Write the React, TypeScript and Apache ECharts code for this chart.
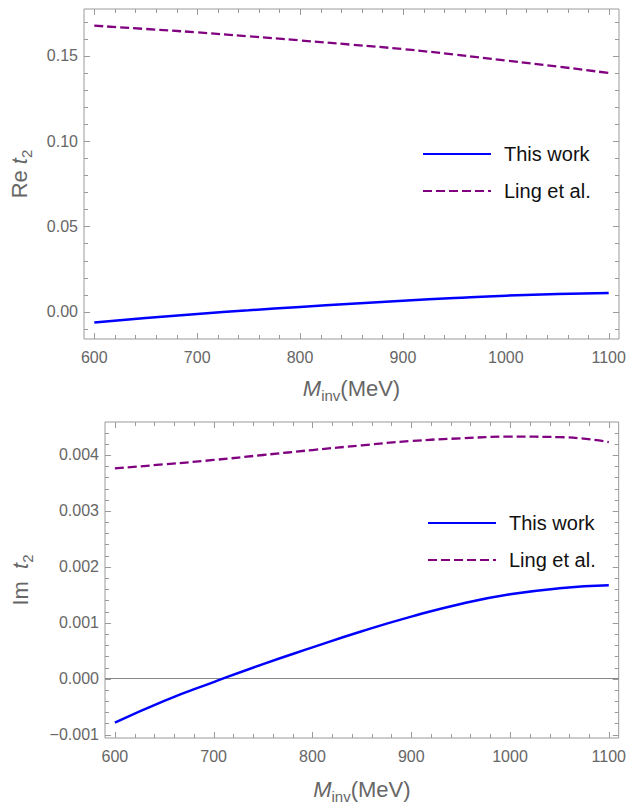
import React, { useEffect, useRef } from "react";
import * as echarts from "echarts";

const xs = [600, 650, 700, 750, 800, 850, 900, 950, 1000, 1050, 1100];
const reThisWork = [-0.0063, -0.0037, -0.0013, 0.0008, 0.0028, 0.0047, 0.0064, 0.008, 0.0094, 0.0103, 0.011];
const reLing = [0.1676, 0.1657, 0.1637, 0.1614, 0.159, 0.1565, 0.1539, 0.1507, 0.1472, 0.1437, 0.1399];
const imThisWork = [-0.000787, -0.000395, -0.00006, 0.000262, 0.00056, 0.000848, 0.00111, 0.001337, 0.001509, 0.001617, 0.001669];
const imLing = [0.003762, 0.003833, 0.003911, 0.004, 0.004089, 0.004173, 0.00425, 0.004298, 0.004328, 0.00432, 0.004232];

const xMajor = [600, 700, 800, 900, 1000, 1100];
const xMinor = [620, 640, 660, 680, 720, 740, 760, 780, 820, 840, 860, 880, 920, 940, 960, 980, 1020, 1040, 1060, 1080];
const reMajor = [0, 0.05, 0.1, 0.15];
const reMinor = [-0.01, 0.01, 0.02, 0.03, 0.04, 0.06, 0.07, 0.08, 0.09, 0.11, 0.12, 0.13, 0.14, 0.16, 0.17];
const imMajor = [-0.001, 0, 0.001, 0.002, 0.003, 0.004];
const imMinor = [-0.0008, -0.0006, -0.0004, -0.0002, 0.0002, 0.0004, 0.0006, 0.0008, 0.0012, 0.0014, 0.0016, 0.0018, 0.0022, 0.0024, 0.0026, 0.0028, 0.0032, 0.0034, 0.0036, 0.0038, 0.0042, 0.0044];

const seriesNames = ["This work", "Ling et al."];

const FONT = "Liberation Sans, Arial, sans-serif";
const GRAY = "#666666";
const FRAME = "#9a9a9a";

const pairs = (a: number[], b: number[]) => a.map((x, i) => [x, b[i]]);

const nameStyle = {
  color: GRAY,
  fontFamily: FONT,
  fontSize: 22,
  rich: {
    n: { fontSize: 22, lineHeight: 24, verticalAlign: "top", color: GRAY, fontFamily: FONT },
    i: { fontSize: 22, lineHeight: 24, verticalAlign: "top", fontStyle: "italic", color: GRAY, fontFamily: FONT },
    s: { fontSize: 15, lineHeight: 15, padding: [11, 0, 0, 0], verticalAlign: "top", color: GRAY, fontFamily: FONT },
  },
};

function axis(grid: number, min: number, max: number, majors: number[], fmt: (v: number) => string, name: string, nameGap: number, isX: boolean) {
  return {
    type: "value",
    gridIndex: grid,
    position: isX ? "bottom" : "left",
    min,
    max,
    name,
    nameLocation: "middle",
    nameGap,
    nameTextStyle: nameStyle,
    axisLine: { show: false, onZero: false },
    splitLine: { show: false },
    axisTick: { show: false },
    axisLabel: {
      show: true,
      customValues: majors,
      formatter: fmt,
      color: GRAY,
      fontFamily: FONT,
      fontSize: 16,
      margin: isX ? 10 : 6,
    },
  };
}

function tickSeries(grid: number, xMin: number, yMin: number, xMaj: number[], xMin2: number[], yMaj: number[], yMin2: number[]) {
  return {
    type: "custom",
    name: "ticks" + grid,
    xAxisIndex: grid,
    yAxisIndex: grid,
    silent: true,
    clip: false,
    z: 1,
    data: [[xMin, yMin]],
    renderItem: (params: any, api: any) => {
      const cs = params.coordSys;
      const top = cs.y;
      const bottom = cs.y + cs.height;
      const left = cs.x;
      const right = cs.x + cs.width;
      const children: any[] = [];
      const st = { stroke: FRAME, lineWidth: 1 };
      const addX = (vals: number[], len: number) =>
        vals.forEach((v) => {
          const px = Math.round(api.coord([v, yMin])[0]) + 0.5;
          children.push({ type: "line", shape: { x1: px, y1: bottom, x2: px, y2: bottom - len }, style: st });
          children.push({ type: "line", shape: { x1: px, y1: top, x2: px, y2: top + len }, style: st });
        });
      const addY = (vals: number[], len: number) =>
        vals.forEach((v) => {
          const py = Math.round(api.coord([xMin, v])[1]) + 0.5;
          children.push({ type: "line", shape: { x1: left, y1: py, x2: left + len, y2: py }, style: st });
          children.push({ type: "line", shape: { x1: right, y1: py, x2: right - len, y2: py }, style: st });
        });
      addX(xMaj, 6);
      addX(xMin2, 4);
      addY(yMaj, 6);
      addY(yMin2, 4);
      return { type: "group", children };
    },
  };
}

export default function App() {
  const ref = useRef<HTMLDivElement>(null);
  useEffect(() => {
    if (!ref.current) return;
    const chart = echarts.init(ref.current, null, { renderer: "svg" });
    const lineStyles = [
      { color: "#0000ff", width: 2.5, type: "solid" },
      { color: "#800080", width: 2.3, type: [9, 4] },
    ];
    const mk = (name: string, data: number[][], xi: number, yi: number, idx: number, extra: any = {}) => ({
      type: "line",
      name,
      data,
      xAxisIndex: xi,
      yAxisIndex: yi,
      smooth: 0.5,
      symbol: "none",
      showSymbol: false,
      z: 3,
      lineStyle: lineStyles[idx],
      itemStyle: { color: lineStyles[idx].color },
      ...extra,
    });
    const legendBase = (left: number, top: number) => ({
      orient: "vertical",
      left,
      top,
      itemWidth: 68,
      itemHeight: 14,
      itemGap: 17,
      padding: 0,
      data: seriesNames,
      itemStyle: { opacity: 0 },
      textStyle: { color: "#111", fontFamily: FONT, fontSize: 20, padding: [0, 0, 0, 8] },
    });
    const fmtRe = (v: number) => v.toFixed(2);
    const fmtIm = (v: number) => v.toFixed(3).replace("-", "\u2212");
    const fmtX = (v: number) => String(v);
    chart.setOption({
      animation: false,
      backgroundColor: "#ffffff",
      grid: [
        { left: 84, right: 10, top: 9, height: 330, show: true, borderColor: FRAME, borderWidth: 1, backgroundColor: "transparent" },
        { left: 105, right: 10, top: 422, height: 316, show: true, borderColor: FRAME, borderWidth: 1, backgroundColor: "transparent" },
      ],
      legend: [legendBase(422, 144), legendBase(427, 513)],
      xAxis: [
        axis(0, 590, 1110, xMajor, fmtX, "{i|M}{s|inv}{n|(MeV)}", 38, true),
        axis(1, 590, 1110, xMajor, fmtX, "{i|M}{s|inv}{n|(MeV)}", 40, true),
      ],
      yAxis: [
        axis(0, -0.016, 0.1774, reMajor, fmtRe, "{n|Re }{i|t}{s|2}", 52, false),
        axis(1, -0.00106, 0.00459, imMajor, fmtIm, "{n|Im  }{i|t}{s|2}", 72, false),
      ],
      series: [
        tickSeries(0, 590, -0.016, xMajor, xMinor, reMajor, reMinor),
        tickSeries(1, 590, -0.00106, xMajor, xMinor, imMajor, imMinor),
        mk(seriesNames[0], pairs(xs, reThisWork), 0, 0, 0),
        mk(seriesNames[1], pairs(xs, reLing), 0, 0, 1),
        mk(seriesNames[0], pairs(xs, imThisWork), 1, 1, 0, {
          markLine: {
            silent: true,
            symbol: ["none", "none"],
            label: { show: false },
            lineStyle: { color: "#888888", width: 1, type: "solid" },
            data: [{ yAxis: 0 }],
            z: 1,
          },
        }),
        mk(seriesNames[1], pairs(xs, imLing), 1, 1, 1),
      ],
    });
    return () => chart.dispose();
  }, []);
  return <div ref={ref} style={{ position: "fixed", left: 0, top: 0, width: 629, height: 806 }} />;
}
